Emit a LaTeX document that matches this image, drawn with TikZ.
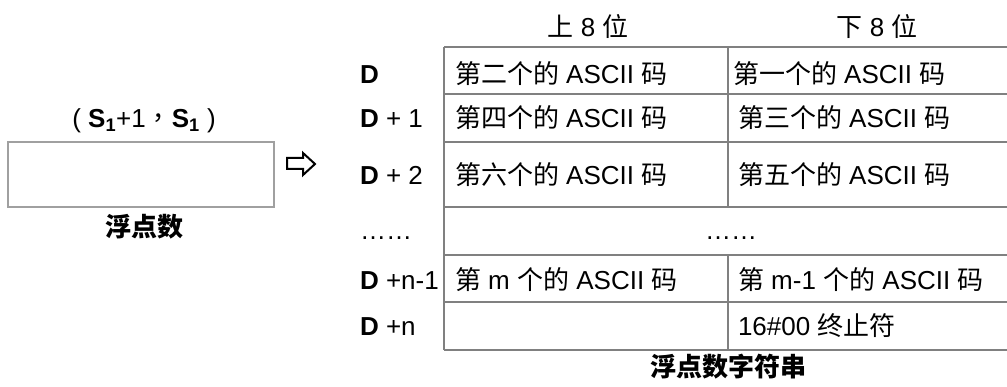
\documentclass[tikz,border=0pt]{standalone}
\usepackage{fontspec}
\setmainfont{Liberation Sans}
\newfontfamily\cjk{Noto Sans CJK SC}
\newfontfamily\cjktc{Noto Sans CJK TC}
\newcommand{\zh}[1]{{\cjk #1}}
\definecolor{rule}{RGB}{128,128,128}
\definecolor{boxrule}{RGB}{160,160,160}
\begin{document}
\begin{tikzpicture}[x=1pt,y=-1pt,
  every node/.style={font=\fontsize{26}{30}\selectfont, inner sep=0pt, outer sep=0pt},
  cell/.style={anchor=base west},
  lbl/.style={anchor=base west},
  hdr/.style={anchor=base},
  grid/.style={draw=rule, line width=2.2pt},
  srcbox/.style={draw=boxrule, line width=2.2pt}]
\useasboundingbox (0,0) rectangle (1007,387);
% table lines
\coordinate (tl) at (444,47);
\coordinate (bl) at (444,350);
\draw[grid] (444,47) -- (1010,47);
\draw[grid] (444,94) -- (1010,94);
\draw[grid] (444,142) -- (1010,142);
\draw[grid] (444,207) -- (1010,207);
\draw[grid] (444,255) -- (1010,255);
\draw[grid] (444,302) -- (1010,302);
\draw[grid] (444,350) -- (1010,350);
\draw[grid] (tl) -- (bl);
\draw[grid] (728,47) -- (728,207);
\draw[grid] (728,255) -- (728,350);
% headers
\node[hdr] (hHi) at (588,37) {\zh{上} 8 \zh{位}};
\node[hdr] (hLo) at (877,37) {\zh{下} 8 \zh{位}};
% row labels
\node[lbl] (r1) at (360,84) {\textbf{D}};
\node[lbl] (r2) at (360,128) {\textbf{D} + 1};
\node[lbl] (r3) at (360,185) {\textbf{D} + 2};
\node[lbl] (r4) at (360,240) {……};
\node[lbl] (r5) at (360,290) {\textbf{D} +n-1};
\node[lbl] (r6) at (360,336) {\textbf{D} +n};
% cells column 1
\node[cell] (c11) at (455,84) {\zh{第二个的} ASCII \zh{码}};
\node[cell] (c21) at (455,128) {\zh{第四个的} ASCII \zh{码}};
\node[cell] (c31) at (455,185) {\zh{第六个的} ASCII \zh{码}};
\node[cell] (c51) at (455,290) {\zh{第} m \zh{个的} ASCII \zh{码}};
% cells column 2
\node[cell] (c12) at (733,84) {\zh{第一个的} ASCII \zh{码}};
\node[cell] (c22) at (738,128) {\zh{第三个的} ASCII \zh{码}};
\node[cell] (c32) at (738,185) {\zh{第五个的} ASCII \zh{码}};
\node[hdr] (c4) at (731,240) {……};
\node[cell] (c52) at (738,290) {\zh{第} m-1 \zh{个的} ASCII \zh{码}};
\node[cell] (c62) at (738,336) {16\#00 \zh{终止符}};
% caption
\node[hdr] (cap) at (728,377) {\cjk\bfseries 浮点数字符串};
% source
\node[hdr] (slbl) at (144,128) {( \textbf{S\textsubscript{1}}+1{\cjktc ，}\textbf{S\textsubscript{1}} )};
\node[srcbox, minimum width=266pt, minimum height=65pt] (src) at (141,174.5) {};
\node[hdr] (scap) at (144,237) {\cjk\bfseries 浮点数};
% hollow arrow
\draw[line width=2pt, line join=miter] (287,158) -- (303,158) -- (303,153) -- (315,164) -- (303,175) -- (303,169) -- (287,169) -- cycle;
\end{tikzpicture}
\end{document}
